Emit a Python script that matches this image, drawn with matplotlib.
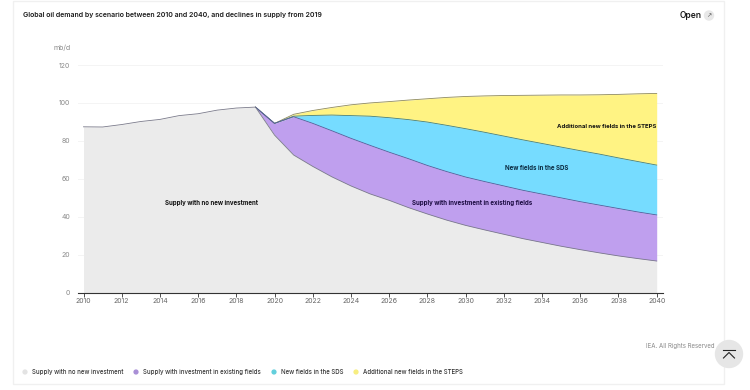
import matplotlib
matplotlib.use('Agg')
import matplotlib.pyplot as plt
from matplotlib.patches import Circle, Rectangle

plt.rcParams['font.family'] = ['Inter', 'DejaVu Sans']

W, H = 750, 390

years = list(range(2010, 2041))
# tops of each layer, mb/d
no_new = [87.4, 87.3, 88.6, 90.2, 91.3, 93.3, 94.3, 96.2, 97.3, 97.8, 83.0, 72.5, 66.5, 61.0, 56.2, 52.0,
          48.6, 44.8, 41.4, 38.2, 35.4, 33.0, 30.7, 28.4, 26.4, 24.4, 22.6, 20.9, 19.3, 17.9, 16.6]
existing = [87.4, 87.3, 88.6, 90.2, 91.3, 93.3, 94.3, 96.2, 97.3, 97.8, 89.2, 92.7, 89.2, 85.3, 81.3, 77.6,
            74.0, 70.6, 67.0, 63.8, 60.9, 58.5, 56.2, 53.9, 51.9, 49.9, 47.9, 46.1, 44.3, 42.5, 40.9]
sds = [87.4, 87.3, 88.6, 90.2, 91.3, 93.3, 94.3, 96.2, 97.3, 97.8, 89.2, 93.0, 93.4, 93.6, 93.3, 93.0,
       92.2, 91.2, 89.9, 88.2, 86.4, 84.5, 82.5, 80.5, 78.6, 76.7, 74.8, 73.0, 71.0, 69.1, 67.2]
steps = [87.4, 87.3, 88.6, 90.2, 91.3, 93.3, 94.3, 96.2, 97.3, 97.8, 89.2, 94.0, 96.0, 97.6, 99.0, 100.0,
         100.7, 101.5, 102.2, 102.9, 103.4, 103.7, 103.9, 104.0, 104.1, 104.2, 104.2, 104.3, 104.5, 104.8, 105.0]

labels = ['Supply with no new investment', 'Supply with investment in existing fields',
          'New fields in the SDS', 'Additional new fields in the STEPS']
colors = ['#ebebeb', '#bf9fee', '#76dcff', '#fff383']
legend_colors = ['#e3e3e3', '#a98fd6', '#62cfdc', '#f7ee80']

x_ticks = list(range(2010, 2041, 2))
y_ticks = [0, 20, 40, 60, 80, 100, 120]

fig = plt.figure(figsize=(W/100, H/100), dpi=100, facecolor='white')

# page furniture in pixel coordinates
bg = fig.add_axes([0, 0, 1, 1])
bg.set_xlim(0, W)
bg.set_ylim(H, 0)
bg.axis('off')
bg.add_patch(Rectangle((12.5, 1), 711, 383, fill=False, ec='#f0f0f0', lw=1))
bg.text(23, 15.5, 'Global oil demand by scenario between 2010 and 2040, and declines in supply from 2019',
        fontsize=5.0, fontweight='semibold', color='#1a1a1a', va='center')
bg.text(680, 15.5, 'Open', fontsize=6.1, fontweight='semibold', color='#1a1a1a', va='center')
bg.add_patch(Circle((709, 15.5), 4.5, color='#e8e8e8'))
bg.text(709, 15.5, '\u2197', fontsize=4.5, color='#555555', ha='center', va='center', family='DejaVu Sans')
bg.text(53, 48, 'mb/d', fontsize=5, color='#8a8a8a', va='center')
bg.text(714, 346, 'IEA. All Rights Reserved', fontsize=4.4, color='#8a8a8a', ha='right', va='center')
bg.add_patch(Circle((729, 354), 13.5, color='#e6e6e6', zorder=3))
bg.plot([723, 735], [350, 350], color='#222222', lw=0.8, zorder=4)
bg.plot([723.5, 729, 734.5], [358, 352.5, 358], color='#222222', lw=0.8, zorder=4)

# legend
legend_x = [25, 136, 274, 356]
for lx, lab, c in zip(legend_x, labels, legend_colors):
    bg.add_patch(Circle((lx, 372), 1.9, color=c))
    bg.text(lx + 7, 372, lab, fontsize=4.4, fontweight='medium', color='#333333', va='center')

# plot area: 2010 at x=83.5, 2040 at x=656.7, 0 at y=292.5, 120 at y=65
px_per_year = (656.7 - 83.5) / 30
x_left, x_right = 78, 663
ax = fig.add_axes([x_left/W, 1 - 292.5/H, (x_right - x_left)/W, (292.5 - 65)/H])
ax.patch.set_alpha(0)
ax.set_xlim(2010 - (83.5 - x_left)/px_per_year, 2040 + (x_right - 656.7)/px_per_year)
ax.set_ylim(0, 120)

ax.fill_between(years, steps, sds, color=colors[3], lw=0, zorder=2)
ax.fill_between(years, sds, existing, color=colors[2], lw=0, zorder=2)
ax.fill_between(years, existing, no_new, color=colors[1], lw=0, zorder=2)
ax.fill_between(years, no_new, 0, color=colors[0], lw=0, zorder=2)
ax.plot(years[9:], steps[9:], color='#8f8a5a', lw=0.6, zorder=3)
ax.plot(years[9:], sds[9:], color='#3f7f86', lw=0.6, zorder=3)
ax.plot(years[9:], existing[9:], color='#5a5a9a', lw=0.6, zorder=3)
ax.plot(years, no_new, color='#7a7a8a', lw=0.6, zorder=3)

ax.set_yticks(y_ticks)
ax.set_xticks(x_ticks)
ax.grid(axis='y', color='#f4f4f4', lw=0.7, zorder=1)
for s in ['top', 'right', 'left']:
    ax.spines[s].set_visible(False)
ax.spines['bottom'].set_color('#333333')
ax.spines['bottom'].set_linewidth(0.8)
ax.set_axisbelow(True)
ax.tick_params(axis='x', length=3, width=0.6, color='#333333', labelsize=5, labelcolor='#666666', pad=1.2)
ax.tick_params(axis='y', length=0, labelsize=5, labelcolor='#8a8a8a', pad=5.5)

ax.text(2016.7, 47.2, labels[0], fontsize=4.4, fontweight='bold', color='#111111', ha='center', va='center')
ax.text(2030.35, 47.2, labels[1], fontsize=4.4, fontweight='bold', color='#1a0a40', ha='center', va='center')
ax.text(2033.7, 65.5, labels[2], fontsize=4.4, fontweight='bold', color='#0a2a40', ha='center', va='center')
ax.text(2040.0, 87.5, labels[3], fontsize=4.3, fontweight='bold', color='#111111', ha='right', va='center')

fig.savefig('out.png', dpi=100)
